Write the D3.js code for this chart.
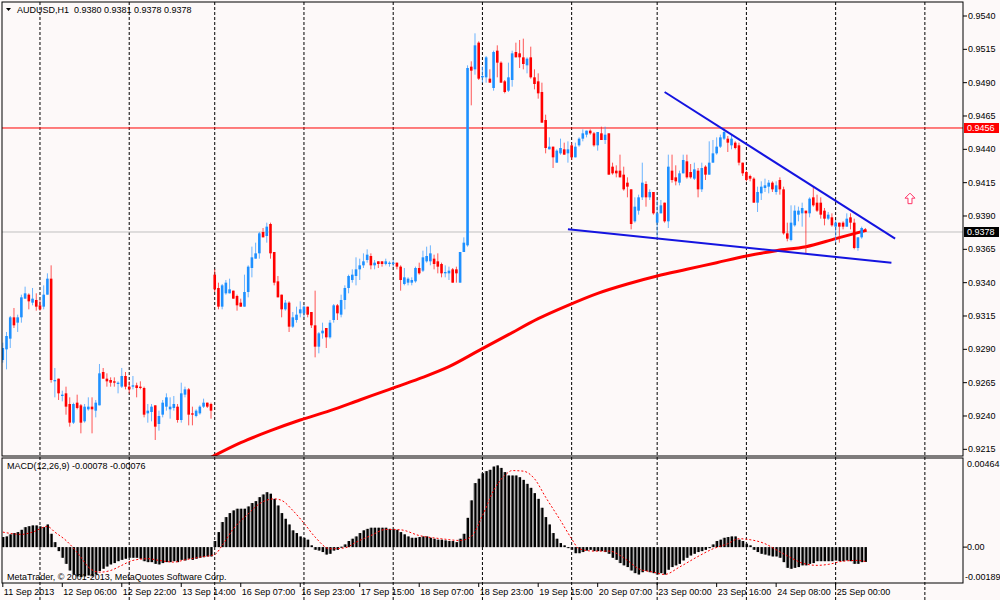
<!DOCTYPE html>
<html>
<head>
<meta charset="utf-8">
<script src="https://cdn.jsdelivr.net/npm/d3@7"></script>
<style>
body { margin: 0; background: #fdf9f9; }
text { font-family: "Liberation Sans", Arial, sans-serif; font-size: 9px; fill: #000; }
</style>
</head>
<body>
<svg id="chart" width="1000" height="600"></svg>
<script>
// AUDUSD H1 bars, prices x 10000, bar 0 = 11 Sep 2013 14:00
var openP = [
  9282,9290,9298,9314,9310,9314,9328,9331,9325,9327,
  9323,9322,9331,9343,9266,9268,9255,9257,9249,9235,
  9250,9248,9236,9245,9247,9244,9248,9273,9268,9267,
  9266,9264,9262,9270,9262,9262,9263,9262,9261,9242,
  9243,9248,9234,9241,9247,9245,9246,9247,9237,9256,
  9260,9242,9240,9242,9247,9250,9249,9346,9336,9322,
  9332,9332,9334,9330,9325,9322,9333,9351,9358,9362,
  9378,9375,9384,9363,9341,9331,9320,9325,9307,9312,
  9317,9317,9322,9318,9308,9292,9302,9306,9299,9312,
  9323,9316,9327,9336,9342,9345,9350,9353,9357,9360,
  9353,9356,9356,9354,9354,9354,9355,9352,9339,9340,
  9340,9341,9351,9349,9356,9356,9358,9356,9354,9347,
  9347,9350,9350,9340,9363,9368,9502,9500,9520,9494,
  9494,9493,9486,9514,9505,9491,9484,9492,9513,9512,
  9509,9503,9509,9494,9491,9483,9462,9440,9442,9430,
  9437,9440,9437,9443,9434,9443,9448,9451,9454,9452,
  9443,9452,9447,9452,9427,9424,9424,9421,9415,9410,
  9386,9394,9404,9414,9404,9408,9385,9392,9400,9386,
  9424,9419,9415,9422,9431,9423,9418,9424,9410,9427,
  9421,9430,9437,9442,9448,9448,9443,9445,9443,9430,
  9423,9420,9418,9400,9407,9411,9412,9415,9408,9417,
  9410,9377,9372,9383,9391,9392,9394,9392,9404,9400,
  9400,9394,9388,9389,9382,9385,9385,9382,9389,9385,
  9366,9374,9380
];
var highP = [
  9295,9303,9315,9321,9316,9331,9337,9332,9336,9332,
  9327,9338,9347,9353,9276,9268,9259,9262,9254,9250,
  9256,9249,9249,9254,9254,9252,9279,9276,9272,9269,
  9269,9266,9276,9273,9266,9270,9265,9266,9262,9249,
  9249,9248,9244,9252,9257,9254,9255,9249,9265,9262,
  9261,9247,9245,9248,9253,9250,9250,9350,9340,9339,
  9342,9343,9334,9331,9328,9346,9353,9367,9370,9378,
  9381,9385,9385,9363,9345,9331,9327,9326,9318,9322,
  9326,9323,9322,9318,9334,9303,9310,9306,9312,9324,
  9324,9331,9338,9346,9350,9359,9358,9362,9365,9362,
  9357,9356,9356,9358,9356,9357,9355,9353,9351,9344,
  9344,9352,9355,9364,9367,9368,9361,9362,9355,9353,
  9352,9351,9352,9363,9374,9503,9506,9527,9521,9502,
  9510,9500,9514,9518,9506,9492,9505,9514,9520,9522,
  9523,9509,9517,9500,9497,9490,9466,9449,9442,9440,
  9448,9445,9446,9445,9445,9449,9455,9454,9455,9453,
  9453,9457,9457,9452,9430,9428,9436,9427,9419,9410,
  9404,9406,9430,9416,9410,9408,9402,9402,9400,9436,
  9436,9428,9424,9436,9436,9429,9430,9426,9430,9428,
  9446,9447,9449,9451,9456,9450,9451,9446,9445,9430,
  9424,9421,9419,9412,9416,9418,9417,9416,9416,9419,
  9412,9385,9398,9398,9397,9400,9394,9404,9412,9406,
  9404,9396,9393,9392,9387,9385,9386,9392,9392,9388,
  9374,9382,9381
];
var lowP = [
  9280,9275,9291,9306,9303,9310,9328,9320,9323,9319,
  9319,9320,9331,9265,9254,9252,9251,9241,9232,9234,
  9245,9227,9235,9244,9227,9239,9248,9268,9262,9262,
  9262,9257,9261,9260,9257,9260,9254,9260,9239,9235,
  9236,9222,9229,9239,9244,9238,9244,9235,9235,9254,
  9233,9233,9239,9241,9246,9246,9238,9333,9320,9320,
  9331,9332,9328,9319,9322,9322,9329,9344,9358,9358,
  9374,9370,9358,9338,9329,9314,9319,9303,9306,9310,
  9314,9314,9314,9306,9284,9287,9298,9291,9298,9310,
  9312,9314,9320,9332,9340,9338,9342,9351,9355,9350,
  9350,9351,9352,9353,9352,9352,9350,9334,9338,9338,
  9338,9340,9346,9348,9355,9353,9350,9347,9344,9344,
  9342,9340,9340,9340,9363,9367,9473,9496,9492,9490,
  9490,9490,9484,9494,9490,9482,9483,9487,9509,9501,
  9500,9497,9493,9485,9478,9460,9437,9440,9426,9430,
  9436,9436,9430,9432,9434,9442,9446,9449,9451,9442,
  9439,9447,9444,9421,9421,9419,9419,9409,9404,9380,
  9385,9391,9402,9397,9402,9391,9374,9392,9385,9381,
  9415,9413,9413,9422,9418,9418,9417,9404,9408,9417,
  9421,9430,9436,9441,9447,9438,9440,9440,9428,9420,
  9416,9416,9400,9393,9402,9408,9407,9408,9406,9406,
  9376,9371,9371,9382,9386,9382,9362,9389,9397,9393,
  9388,9383,9387,9382,9370,9370,9380,9382,9380,9365,
  9364,9373,9378
];
var closeP = [
  9291,9300,9314,9308,9314,9329,9332,9326,9328,9322,
  9320,9331,9343,9267,9267,9257,9256,9247,9235,9249,
  9246,9235,9247,9247,9245,9250,9272,9268,9266,9265,
  9265,9265,9270,9262,9260,9263,9261,9261,9241,9244,
  9247,9232,9240,9250,9254,9247,9249,9237,9257,9260,
  9241,9241,9244,9247,9250,9247,9244,9335,9322,9338,
  9340,9335,9328,9323,9322,9333,9352,9359,9362,9377,
  9374,9382,9362,9340,9329,9320,9325,9307,9314,9316,
  9320,9322,9316,9308,9292,9302,9304,9299,9310,9323,
  9317,9327,9336,9345,9346,9350,9353,9356,9361,9353,
  9355,9354,9354,9356,9355,9355,9352,9342,9344,9343,
  9342,9351,9347,9359,9360,9362,9354,9352,9347,9348,
  9349,9340,9347,9363,9370,9501,9499,9518,9493,9495,
  9509,9490,9513,9505,9490,9483,9494,9512,9509,9509,
  9504,9508,9494,9489,9482,9460,9441,9442,9434,9439,
  9441,9436,9440,9434,9442,9448,9452,9454,9452,9443,
  9453,9447,9451,9421,9422,9422,9419,9410,9412,9384,
  9397,9404,9415,9404,9408,9392,9392,9398,9386,9427,
  9417,9416,9422,9432,9419,9419,9425,9410,9426,9421,
  9430,9437,9442,9449,9453,9445,9448,9441,9430,9422,
  9417,9418,9400,9408,9412,9413,9415,9410,9413,9410,
  9377,9373,9385,9394,9394,9396,9392,9403,9398,9394,
  9391,9388,9391,9383,9385,9382,9382,9388,9385,9366,
  9374,9381,9378
];

// MACD(12,26,9) main values, x 100000
var macdV = [
  53,56,67,74,79,91,105,110,114,114,
  109,105,119,70,26,-21,-56,-88,-123,-144,
  -154,-158,-154,-149,-154,-144,-126,-114,-102,-91,
  -84,-74,-67,-61,-56,-56,-56,-61,-74,-79,
  -79,-88,-91,-84,-79,-79,-74,-79,-67,-70,
  -61,-67,-61,-56,-53,-49,-49,32,79,132,
  158,179,193,202,202,202,214,232,242,263,
  277,289,281,254,219,179,149,119,88,74,
  56,49,39,9,-14,-18,-26,-39,-35,-18,
  -14,2,14,32,44,56,74,88,96,102,
  102,102,102,102,96,96,91,79,67,56,
  49,49,53,56,56,49,44,39,39,35,
  32,32,26,44,70,154,246,337,360,389,
  400,407,424,430,417,395,377,377,377,368,
  354,333,312,284,254,207,158,119,74,44,
  21,9,-4,-14,-32,-32,-26,-18,-14,-21,
  -21,-21,-26,-35,-56,-67,-84,-96,-105,-123,
  -137,-144,-132,-126,-132,-137,-144,-137,-144,-119,
  -105,-96,-88,-70,-56,-44,-35,-26,-21,-14,
  -4,14,32,39,49,53,56,56,39,32,
  18,9,-14,-26,-35,-39,-44,-49,-49,-56,
  -79,-109,-114,-109,-105,-96,-96,-88,-84,-74,
  -74,-74,-74,-74,-70,-74,-74,-70,-74,-88,
  -88,-79,-78
];
// signal line read at these bars
var signalIdx = [0,5,8,12,14,17,21,23,26,29,32,35,39,42,46,49,53,57,59,62,66,69,73,75,78,81,84,88,92,95,99,103,107,112,118,123,126,129,132,135,137,140,143,146,150,153,155,159,163,168,171,175,178,182,187,191,195,198,201,205,208,212,215,219,222,226,230,232];
var signalV = [79,67,79,109,79,35,-53,-105,-132,-123,-96,-70,-61,-70,-79,-67,-53,-39,9,96,175,228,254,246,193,126,53,-9,-4,26,61,93,91,61,44,35,56,165,298,377,403,400,360,263,140,44,-9,-21,-21,-70,-114,-132,-144,-105,-49,-9,18,44,39,18,-14,-56,-84,-96,-91,-74,-70,-76];

// moving average read at these bars
var maIdx = [56,64,72,80,88,96,104,112,120,128,136,144,152,160,168,176,184,192,200,208,216,224,232];
var maP = [9209,9220,9229,9237,9244,9252,9260,9268,9277,9289,9301,9313,9323,9332,9339,9345,9350,9355,9360,9364,9367,9373,9379];

// trend lines (bar, price)
var upperIdx = [178, 240], upperP = [9483, 9373];
var lowerIdx = [152, 239], lowerP = [9380, 9355];

var priceTicks = [9540,9515,9490,9465,9440,9415,9390,9365,9340,9315,9290,9265,9240,9215];
var timeLabels = ["11 Sep 2013","12 Sep 06:00","12 Sep 22:00","13 Sep 14:00","16 Sep 07:00","16 Sep 23:00",
  "17 Sep 15:00","18 Sep 07:00","18 Sep 23:00","19 Sep 15:00","20 Sep 07:00","23 Sep 00:00",
  "23 Sep 16:00","24 Sep 08:00","25 Sep 00:00"];
var daySeps = [10,34,57,81,105,129,153,176,200,224,248];
var resistance = 9456, lastPrice = 9378;
var arrowIdx = 244, arrowP = 9403;

var svg = d3.select("#chart");
svg.append("rect").attr("width",1000).attr("height",600).attr("fill","#fdf9f9");

var x = d3.scaleLinear().domain([0, 248]).range([2.8, 2.8 + 248*3.718]);
var y = d3.scaleLinear().domain([9215, 9540]).range([449.33, 16]);
var ym = d3.scaleLinear().domain([-189, 464]).range([583, 459]);

var defs = svg.append("defs");
defs.append("clipPath").attr("id","mainClip").append("rect")
  .attr("x",2).attr("y",2).attr("width",961).attr("height",454);
defs.append("clipPath").attr("id","macdClip").append("rect")
  .attr("x",2).attr("y",458).attr("width",961).attr("height",125);

// day separators
svg.selectAll(".sep").data(daySeps).join("line")
  .attr("x1",d=>x(d)).attr("x2",d=>x(d)).attr("y1",2).attr("y2",600)
  .attr("stroke","#000").attr("stroke-dasharray","3,2").attr("stroke-width",1);

var main = svg.append("g").attr("clip-path","url(#mainClip)");

main.append("line").attr("x1",2).attr("x2",963).attr("y1",y(lastPrice)).attr("y2",y(lastPrice))
  .attr("stroke","#c0c0c0");
main.append("line").attr("x1",2).attr("x2",963).attr("y1",y(resistance)).attr("y2",y(resistance))
  .attr("stroke","#ff0000");

// moving average
var maLine = d3.line().x(d=>x(d[0])).y(d=>y(d[1])).curve(d3.curveMonotoneX);
main.append("path").attr("d", maLine(d3.zip(maIdx, maP)))
  .attr("fill","none").attr("stroke","#ff0000").attr("stroke-width",3);

var bars = d3.range(closeP.length);
var isUp = i => closeP[i] >= openP[i];

main.selectAll(".wick").data(bars).join("line")
  .attr("x1",i=>x(i)).attr("x2",i=>x(i))
  .attr("y1",i=>y(highP[i])).attr("y2",i=>y(lowP[i]))
  .attr("stroke",i=>isUp(i) ? "#3a9cff" : "#ff2020")
  .attr("stroke-opacity",0.75).attr("stroke-width",1);

main.selectAll(".body").data(bars).join("rect")
  .attr("x",i=>x(i)-1.3).attr("width",2.6)
  .attr("y",i=>y(Math.max(openP[i],closeP[i])))
  .attr("height",i=>Math.max(1, Math.abs(y(openP[i])-y(closeP[i]))))
  .attr("fill",i=>isUp(i) ? "#1e90ff" : "#ff0000");

// trend lines
main.append("line").attr("x1",x(upperIdx[0])).attr("y1",y(upperP[0]))
  .attr("x2",x(upperIdx[1])).attr("y2",y(upperP[1]))
  .attr("stroke","#1414e0").attr("stroke-width",2);
main.append("line").attr("x1",x(lowerIdx[0])).attr("y1",y(lowerP[0]))
  .attr("x2",x(lowerIdx[1])).attr("y2",y(lowerP[1]))
  .attr("stroke","#1414e0").attr("stroke-width",2);

// arrow mark
main.append("path")
  .attr("transform","translate(" + x(arrowIdx) + "," + y(arrowP) + ")")
  .attr("d","M0,-5.5L5,-0.5L2,-0.5L2,5L-2,5L-2,-0.5L-5,-0.5Z")
  .attr("fill","#fff").attr("stroke","#ff3366").attr("stroke-width",1);

// MACD panel
var mg = svg.append("g").attr("clip-path","url(#macdClip)");
mg.selectAll(".hb").data(bars).join("rect")
  .attr("x",i=>x(i)-1.5).attr("width",3)
  .attr("y",i=>Math.min(ym(0), ym(macdV[i])))
  .attr("height",i=>Math.max(1, Math.abs(ym(macdV[i])-ym(0))))
  .attr("fill","#8a8a8a");
mg.selectAll(".hbi").data(bars).join("rect")
  .attr("x",i=>x(i)-0.5).attr("width",2)
  .attr("y",i=>Math.min(ym(0), ym(macdV[i])))
  .attr("height",i=>Math.max(1, Math.abs(ym(macdV[i])-ym(0))))
  .attr("fill","#000");
var sigLine = d3.line().x(d=>x(d[0])).y(d=>ym(d[1])).curve(d3.curveMonotoneX);
mg.append("path").attr("d", sigLine(d3.zip(signalIdx, signalV)))
  .attr("fill","none").attr("stroke","#ff0000").attr("stroke-width",1)
  .attr("stroke-dasharray","2,2");

// panel borders
svg.append("rect").attr("x",2).attr("y",2).attr("width",961).attr("height",454)
  .attr("fill","none").attr("stroke","#000");
svg.append("rect").attr("x",2).attr("y",458).attr("width",961).attr("height",125)
  .attr("fill","none").attr("stroke","#000");

// price axis
svg.selectAll(".ptick").data(priceTicks).join("line")
  .attr("x1",963).attr("x2",967).attr("y1",d=>y(d)).attr("y2",d=>y(d)).attr("stroke","#000");
svg.selectAll(".plab").data(priceTicks).join("text")
  .attr("x",968).attr("y",d=>y(d)).attr("dy","0.35em")
  .text(d=>(d/10000).toFixed(4));

function priceBox(p, col) {
  svg.append("rect").attr("x",964).attr("y",y(p)-5).attr("width",35).attr("height",10).attr("fill",col);
  svg.append("text").attr("x",967).attr("y",y(p)).attr("dy","0.35em")
    .style("fill","#fff").text((p/10000).toFixed(4));
}
priceBox(resistance, "#ff0000");
priceBox(lastPrice, "#000");

// MACD axis
svg.append("line").attr("x1",963).attr("x2",967).attr("y1",ym(0)).attr("y2",ym(0)).attr("stroke","#000");
svg.append("text").attr("x",967).attr("y",ym(464)+5).attr("dy","0.35em").text("0.00464");
svg.append("text").attr("x",967).attr("y",ym(0)).attr("dy","0.35em").text("0.00");
svg.append("text").attr("x",965).attr("y",ym(-189)-6).attr("dy","0.35em").text("-0.00189");

// time axis
svg.selectAll(".ttick").data(timeLabels).join("line")
  .attr("x1",(d,k)=>x(k*16)).attr("x2",(d,k)=>x(k*16))
  .attr("y1",583).attr("y2",587).attr("stroke","#000");
svg.selectAll(".tlab").data(timeLabels).join("text")
  .attr("x",(d,k)=>x(k*16)+1).attr("y",595)
  .text(d=>d);

// captions
svg.append("path").attr("d","M6,8L11,8L8.5,11Z").attr("fill","#000");
svg.append("text").attr("x",17).attr("y",13).attr("xml:space","preserve")
  .text("AUDUSD,H1  0.9380 0.9381 0.9378 0.9378");
svg.append("text").attr("x",7).attr("y",469).text("MACD(12,26,9) -0.00078 -0.00076");
svg.append("text").attr("x",7).attr("y",580).text("MetaTrader, \u00a9 2001-2013, MetaQuotes Software Corp.");
</script>
</body>
</html>
